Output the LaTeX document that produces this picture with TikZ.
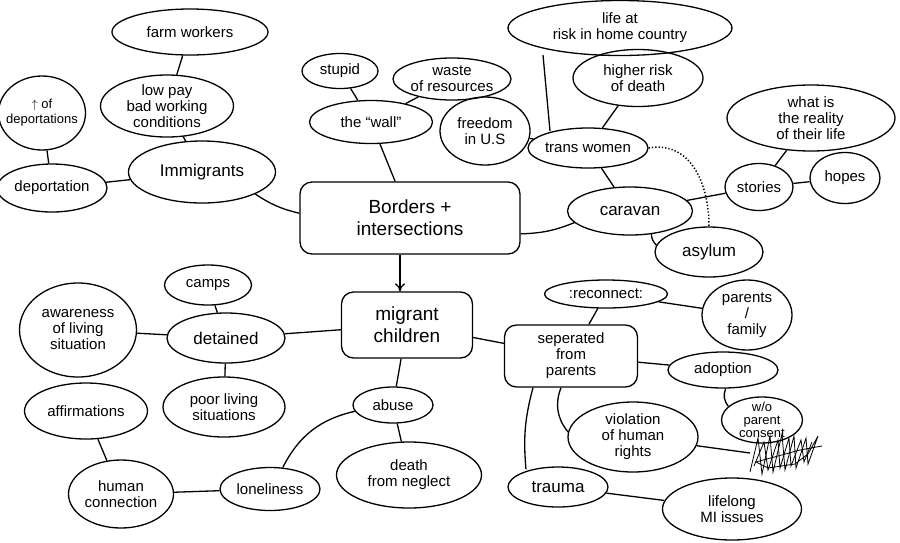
\documentclass[tikz,border=0pt]{standalone}
\usepackage{fontspec}
\setmainfont{Liberation Sans}
\usetikzlibrary{shapes.geometric,arrows.meta,calc}
\begin{document}
\begin{tikzpicture}[x=1pt,y=-1pt,
  ink/.style={line width=1.3pt, black},
  bub/.style={ellipse, draw, ink, inner xsep=-5pt, inner ysep=-6pt, align=center, font=\fontsize{15}{16}\selectfont},
  big/.style={font=\fontsize{17}{18}\selectfont},
  box/.style={rectangle, rounded corners=12pt, draw, ink, inner sep=0pt, align=center, font=\fontsize{19}{22}\selectfont},
  link/.style={ink}]
\useasboundingbox (0,0) rectangle (900,542);
\fill[white] (0,0) rectangle (900,542);
% central nodes
\node[box, minimum width=220, minimum height=72] (borders) at (410,218) {Borders +\\intersections};
\node[box, minimum width=131, minimum height=66] (migrant) at (407,325) {migrant\\children};
\node[box, minimum width=133, minimum height=62, font=\fontsize{15}{16}\selectfont] (sep) at (571,356) {seperated\\from\\parents};
% top left
\node[bub, minimum width=156, minimum height=46] (farm) at (190,32) {farm workers};
\node[bub, minimum width=133, minimum height=62] (lowpay) at (167,106) {low pay\\bad working\\conditions};
\node[bub, minimum width=86, minimum height=74, font=\fontsize{13}{15}\selectfont] (updep) at (42,113) {$\uparrow$ of\\deportations};
\node[bub, minimum width=110, minimum height=48] (deport) at (52,188) {deportation};
\node[bub, big, minimum width=147, minimum height=62] (immig) at (202,172) {Immigrants};
% top middle
\node[bub, minimum width=76, minimum height=35] (stupid) at (340,71) {stupid};
\node[bub, minimum width=118, minimum height=42] (waste) at (452,79) {waste\\of resources};
\node[bub, minimum width=123, minimum height=43] (wall) at (371,122) {the ``wall''};
\node[bub, minimum width=90, minimum height=68] (freedom) at (485,131) {freedom\\in U.S};
% top right
\node[bub, minimum width=224, minimum height=55] (lifeat) at (620,28) {life at\\risk in home country};
\node[bub, minimum width=130, minimum height=57] (higher) at (638,78) {higher risk\\of death};
\node[bub, minimum width=120, minimum height=40] (trans) at (588,148) {trans women};
\node[bub, minimum width=168, minimum height=66] (reality) at (811,118) {what is\\the reality\\of their life};
\node[bub, minimum width=68, minimum height=47] (stories) at (759,187) {stories};
\node[bub, minimum width=70, minimum height=51] (hopes) at (845,178) {hopes};
\node[bub, big, minimum width=125, minimum height=48] (caravan) at (630,211) {caravan};
\node[bub, big, minimum width=108, minimum height=50] (asylum) at (709,252) {asylum};
% bottom left
\node[bub, minimum width=87, minimum height=40] (camps) at (208,285) {camps};
\node[bub, big, minimum width=118, minimum height=50] (detained) at (226,338) {detained};
\node[bub, minimum width=117, minimum height=94] (aware) at (78,330) {awareness\\of living\\situation};
\node[bub, minimum width=122, minimum height=60] (poor) at (224,407) {poor living\\situations};
\node[bub, minimum width=123, minimum height=56] (affirm) at (86,411) {affirmations};
\node[bub, minimum width=105, minimum height=68] (human) at (121,494) {human\\connection};
\node[bub, minimum width=100, minimum height=43] (lonely) at (270,489) {loneliness};
% bottom middle
\node[bub, minimum width=80, minimum height=36] (abuse) at (393,405) {abuse};
\node[bub, minimum width=145, minimum height=66] (death) at (409,475) {death\\from neglect};
% bottom right
\node[bub, minimum width=123, minimum height=28] (reconn) at (606,294) {:reconnect:};
\node[bub, minimum width=90, minimum height=70] (parents) at (747,315) {parents\\/\\family};
\node[bub, minimum width=110, minimum height=36] (adoption) at (723,370) {adoption};
\node[bub, minimum width=130, minimum height=70] (violation) at (633,437) {violation\\of human\\rights};
\node[bub, minimum width=81, minimum height=46, font=\fontsize{13}{13}\selectfont] (wo) at (762,420) {w/o\\parent\\consent};
\node[bub, big, minimum width=100, minimum height=40] (trauma) at (558,487) {trauma};
\node[bub, minimum width=139, minimum height=62] (lifelong) at (732,509) {lifelong\\MI issues};
\coordinate (scrib) at (750,453);
\coordinate (lifestart) at (543,55);
\coordinate (lifeend) at (550,131);
% scribble (crossed-out text)
\draw[line width=0.8pt] (750,472) -- (758,438) -- (762,474) -- (770,436) -- (773,472) -- (782,434) -- (785,470) -- (794,436) -- (796,468) -- (806,438) -- (808,464) -- (818,436) -- (808,454) -- (795,464) -- (768,468) -- (756,462) -- (800,450) -- (822,446);
\draw[line width=0.8pt] (754,466) -- (764,442) -- (768,470) -- (778,440) -- (780,468) -- (789,438) -- (791,466) -- (801,440) -- (804,462) -- (812,442);
% links
\draw[link] (farm) -- (lowpay);
\draw[link] (lowpay) -- (immig);
\draw[link] (updep) -- (deport);
\draw[link] (deport) -- (immig);
\draw[link] (immig) to[bend right=10] (borders);
\draw[link] (stupid) -- (wall);
\draw[link] (waste) -- (wall);
\draw[link] (wall) -- (borders);
\draw[link] (freedom) -- (trans);
\draw[link] (lifestart) -- (lifeend);
\draw[link] (higher) -- (trans);
\draw[link] (trans) -- (caravan);
\draw[ink, dotted, line width=1.5pt] (trans.east) to[out=10, in=90, looseness=1.1] (asylum.north);
\draw[link] (reality) -- (stories);
\draw[link] (stories) -- (hopes);
\draw[link] (caravan) -- (stories);
\draw[link] (caravan) to[bend right=20] (asylum);
\draw[link] (borders) to[bend right=10] (caravan);
\draw[ink, -{To[length=8pt,width=10pt]}] (borders.south -| 400,0) -- (migrant.north -| 400,0);
\draw[link] (detained) -- (migrant);
\draw[link] (camps) -- (detained);
\draw[link] (detained) -- (aware);
\draw[link] (detained) -- (poor);
\draw[link] (affirm) -- (human);
\draw[link] (human) -- (lonely);
\draw[link] (lonely) to[bend left=25] (abuse);
\draw[link] (abuse) -- (migrant);
\draw[link] (abuse) -- (death);
\draw[link] (migrant) -- (sep);
\draw[link] (reconn) -- (sep);
\draw[link] (reconn) -- (parents);
\draw[link] (sep) -- (adoption);
\draw[link] (adoption) to[bend right=30] (wo);
\draw[link] ($(sep.south)+(-10,0)$) to[bend right=30] (violation);
\draw[link] ($(sep.south)+(-38,0)$) to[bend right=10] ($(trauma.north)+(-32,3)$);
\draw[link] (violation) -- (scrib);
\draw[link] (trauma) -- (lifelong);
\end{tikzpicture}
\end{document}
